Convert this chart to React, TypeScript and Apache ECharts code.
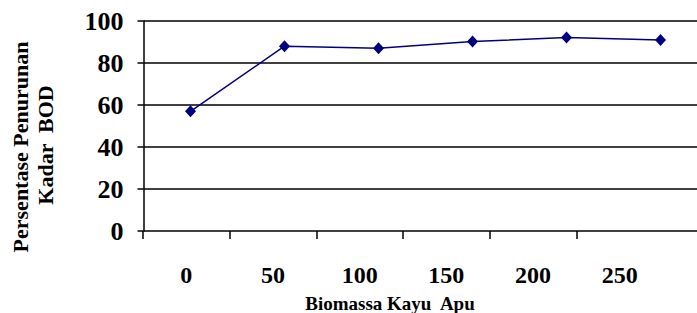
import React, { useEffect, useRef } from "react";
import * as echarts from "echarts";

const categories = ["0", "50", "100", "150", "200", "250"];
const reductionValues = [57, 88, 87, 90.2, 92.2, 91];
const yTicks = { min: 0, max: 100, interval: 20 };
const yTitleLines = ["Persentase Penurunan", "Kadar  BOD"];
const xTitle = "Biomassa Kayu  Apu";

const FONT = "Liberation Serif";

export default function App() {
  const ref = useRef<HTMLDivElement>(null);
  useEffect(() => {
    if (!ref.current) return;
    const chart = echarts.init(ref.current, undefined, { renderer: "svg" });
    const points = reductionValues.map((v, i) => [i, v]);
    chart.setOption({
      animation: false,
      backgroundColor: "#ffffff",
      grid: [
        { left: 143.5, top: 21, height: 210, width: 553.5 },
        { left: 143, top: 21, height: 210, width: 520 },
        { left: 143, top: 21, height: 210, width: 433.3 },
      ],
      xAxis: [
        {
          type: "value",
          gridIndex: 0,
          min: -0.5,
          max: 5.388,
          axisLine: { show: false },
          axisTick: { show: false },
          axisLabel: { show: false },
          splitLine: { show: false },
        },
        {
          type: "category",
          gridIndex: 1,
          data: categories,
          boundaryGap: true,
          axisLine: { show: false },
          axisTick: { show: false },
          axisLabel: {
            show: true,
            interval: 0,
            margin: 32,
            color: "#000",
            fontFamily: FONT,
            fontWeight: "bold",
            fontSize: 24,
          },
          splitLine: { show: false },
        },
        {
          type: "category",
          gridIndex: 2,
          data: categories,
          boundaryGap: false,
          axisLine: { show: false },
          axisTick: {
            show: true,
            interval: 0,
            length: 8,
            lineStyle: { color: "#000", width: 1.5 },
          },
          axisLabel: { show: false },
          splitLine: { show: false },
        },
      ],
      yAxis: [
        {
          type: "value",
          gridIndex: 0,
          min: yTicks.min,
          max: yTicks.max,
          interval: yTicks.interval,
          axisLine: {
            show: true,
            onZero: false,
            lineStyle: { color: "#000", width: 1.5 },
          },
          axisTick: {
            show: true,
            length: 6,
            lineStyle: { color: "#000", width: 1.5 },
          },
          axisLabel: {
            margin: 20,
            color: "#000",
            fontFamily: FONT,
            fontWeight: "bold",
            fontSize: 26,
          },
          splitLine: { show: true, lineStyle: { color: "#000", width: 1.5 } },
        },
        { type: "value", gridIndex: 1, show: false, min: 0, max: 100 },
        { type: "value", gridIndex: 2, show: false, min: 0, max: 100 },
      ],
      series: [
        {
          type: "line",
          xAxisIndex: 0,
          yAxisIndex: 0,
          data: points,
          symbol: "diamond",
          symbolSize: [11, 12],
          lineStyle: { color: "#000080", width: 1.5 },
          itemStyle: { color: "#000080" },
        },
      ],
      graphic: [
        {
          type: "text",
          x: 20,
          y: 147,
          rotation: Math.PI / 2,
          style: {
            text: yTitleLines[0],
            fontFamily: FONT,
            fontWeight: "bold",
            fontSize: 22,
            fill: "#000",
            textAlign: "center",
            textVerticalAlign: "middle",
          },
        },
        {
          type: "text",
          x: 45,
          y: 145,
          rotation: Math.PI / 2,
          style: {
            text: yTitleLines[1],
            fontFamily: FONT,
            fontWeight: "bold",
            fontSize: 22,
            fill: "#000",
            textAlign: "center",
            textVerticalAlign: "middle",
          },
        },
        {
          type: "text",
          x: 390,
          y: 303,
          style: {
            text: xTitle,
            fontFamily: FONT,
            fontWeight: "bold",
            fontSize: 19,
            fill: "#000",
            textAlign: "center",
            textVerticalAlign: "middle",
          },
        },
      ],
    });
    return () => chart.dispose();
  }, []);
  return (
    <div
      ref={ref}
      style={{ position: "fixed", left: 0, top: 0, width: 697, height: 313 }}
    />
  );
}
